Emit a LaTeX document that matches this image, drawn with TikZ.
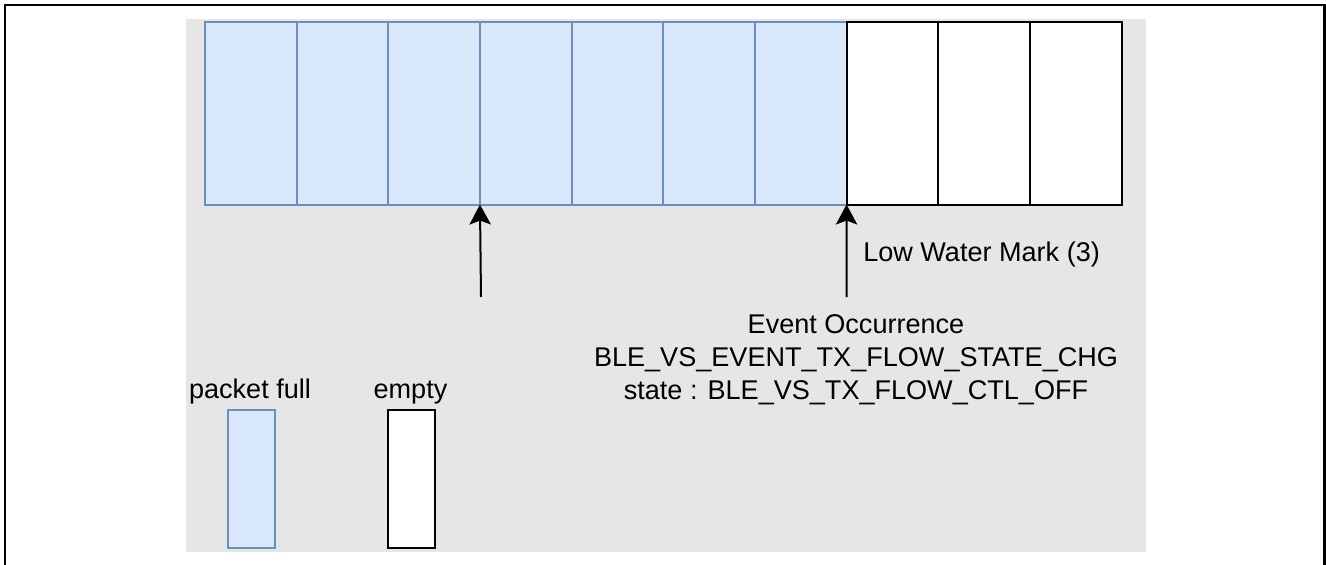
\documentclass[tikz,border=0pt]{standalone}
\usepackage{fontspec}
\setmainfont{Liberation Sans}
\usetikzlibrary{arrows.meta}
\definecolor{bgray}{HTML}{E6E6E6}
\definecolor{fullfill}{HTML}{DAE8FC}
\definecolor{fulldraw}{HTML}{6C8EBF}
\begin{document}
\begin{tikzpicture}[x=0.75pt,y=-0.75pt,
  fullcell/.style={draw=fulldraw,fill=fullfill,line width=1.5pt,minimum width=68.74pt,minimum height=136.9pt,inner sep=0pt,outer sep=0pt},
  emptycell/.style={draw=black,fill=white,line width=1.5pt,minimum width=68.74pt,minimum height=136.9pt,inner sep=0pt,outer sep=0pt},
  legfull/.style={draw=fulldraw,fill=fullfill,line width=1.5pt,minimum width=35.25pt,minimum height=103.5pt,inner sep=0pt},
  legempty/.style={draw=black,fill=white,line width=1.5pt,minimum width=35.25pt,minimum height=103.5pt,inner sep=0pt},
  lbl/.style={font=\fontsize{20.3}{24.75}\selectfont,inner sep=0pt,text=black},
  pointer/.style={draw=black,line width=1.5pt,-{Stealth[length=15pt,width=16pt,inset=3pt]}}]
\useasboundingbox (0,0) rectangle (1326,564);
% frame and background
\draw[line width=2pt] (5,570) -- (5,5) -- (1324.5,5) -- (1324.5,570);
\fill[bgray] (186,19) rectangle (1146,552);
% packet cells
\foreach \i in {1,...,7} {
  \node[fullcell] (c\i) at ({205+91.65*(\i-0.5)},113.25) {};
}
\foreach \i in {8,9,10} {
  \node[emptycell] (c\i) at ({205+91.65*(\i-0.5)},113.25) {};
}
% pointers
\coordinate (p1) at (481,297);
\coordinate (p2) at (846.5,297);
\draw[pointer] (p1) -- (c3.south east);
\draw[pointer] (p2) -- (c7.south east);
% labels
\node[lbl,anchor=base west] (lwm) at (863,261) {Low Water Mark (3)};
\node[lbl,anchor=north,align=center] (evt) at (856,314.5) {Event Occurrence\\BLE\_VS\_EVENT\_TX\_FLOW\_STATE\_CHG\\state : BLE\_VS\_TX\_FLOW\_CTL\_OFF};
% legend
\node[lbl,anchor=base] (lfull) at (250,398) {packet full};
\node[lbl,anchor=base] (lempty) at (410.5,398) {empty};
\node[legfull] (kfull) at (251.5,479) {};
\node[legempty] (kempty) at (411.5,479) {};
\end{tikzpicture}
\end{document}
